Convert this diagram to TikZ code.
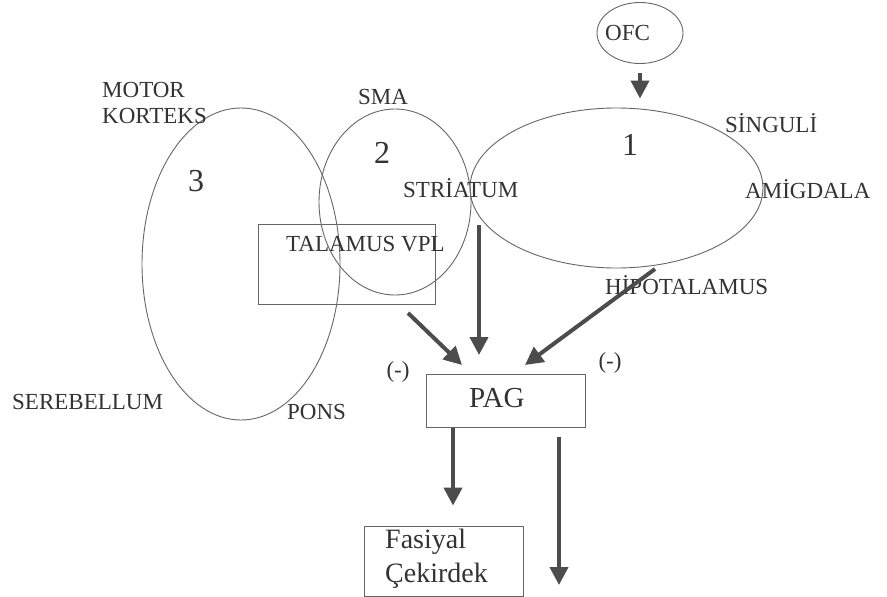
\documentclass[tikz,border=0pt]{standalone}
\usepackage{fontspec}
\setmainfont{Liberation Serif}
\usetikzlibrary{shapes,arrows.meta}
\tikzset{
  region/.style={ellipse,draw=black!60,line width=0.9pt,inner sep=0pt},
  box/.style={rectangle,draw=black!60,line width=0.9pt,inner sep=0pt},
  lbl/.style={anchor=base west,inner sep=0pt,text=black!80,font=\fontsize{23}{27}\selectfont},
  big/.style={lbl,font=\fontsize{28}{34}\selectfont},
  num/.style={inner sep=0pt,text=black!80,font=\fontsize{32}{38}\selectfont},
  fat/.style={draw=black!70,line width=4pt,-{Triangle[width=18pt 0 0,length=18pt 0 0]}},
}

\begin{document}
\begin{tikzpicture}[x=1pt,y=-1pt]
	\useasboundingbox[fill=white] (0,0) rectangle (887,597);

	\node[region,minimum width=86pt,minimum height=61pt] (ofc) at (640,33) {};
	\node[region,minimum width=293pt,minimum height=160pt] (ell1) at (616.5,188) {};
	\node[region,minimum width=152pt,minimum height=186pt] (ell2) at (395,202) {};
	\node[region,minimum width=198pt,minimum height=312pt] (ell3) at (241,264) {};
	\node[box,minimum width=177pt,minimum height=80pt] (vpl) at (346.5,264) {};
	\node[box,minimum width=159pt,minimum height=53pt] (pag) at (505.5,400.5) {};
	\node[box,minimum width=159pt,minimum height=70pt] (fas) at (443.5,561) {};

	\node[num] (n1) at (630,145) {1};
	\node[num] (n2) at (382,153) {2};
	\node[num] (n3) at (196,181) {3};

	\node[lbl] (ofclbl) at (605,40) {OFC};
	\node[lbl] (motor) at (102,97) {MOTOR};
	\node[lbl] (korteks) at (102,123) {KORTEKS};
	\node[lbl] (sma) at (358,104) {SMA};
	\node[lbl] (singuli) at (725,132) {SİNGULİ};
	\node[lbl] (striatum) at (403,197) {STRİATUM};
	\node[lbl] (amigdala) at (745,198) {AMİGDALA};
	\node[lbl] (talamus) at (286,251) {TALAMUS VPL};
	\node[lbl] (hipotalamus) at (605,294) {HİPOTALAMUS};
	\node[lbl] (serebellum) at (12,409) {SEREBELLUM};
	\node[lbl] (pons) at (287,419) {PONS};
	\node[lbl,anchor=center] (minusl) at (398,372) {(-)};
	\node[lbl,anchor=center] (minusr) at (610,363) {(-)};
	\node[big,font=\fontsize{29}{34}\selectfont] (paglbl) at (469,407) {PAG};
	\node[big] (fasiyal) at (385,548) {Fasiyal};
	\node[big] (cekirdek) at (385,582) {Çekirdek};

	\coordinate (ofcout) at (640,73);
	\coordinate (vplout) at (408,313);
	\coordinate (strout) at (479,225);
	\coordinate (hipout) at (655,269);
	\coordinate (pagin1) at (462,365);
	\coordinate (pagin2) at (479,355);
	\coordinate (pagin3) at (525,365);
	\coordinate (pagout1) at (453,428);
	\coordinate (pagout2) at (559,437);
	\coordinate (down) at (559,585);

	\draw[fat] (ofcout) -- ([yshift=9pt]ofcout |- ell1.north);
	\draw[fat] (vplout) -- (pagin1);
	\draw[fat] (strout) -- (pagin2);
	\draw[fat] (hipout) -- (pagin3);
	\draw[fat] (pagout1) -- ([yshift=20pt]pagout1 |- fas.north);
	\draw[fat] (pagout2) -- (down);
\end{tikzpicture}
\end{document}
